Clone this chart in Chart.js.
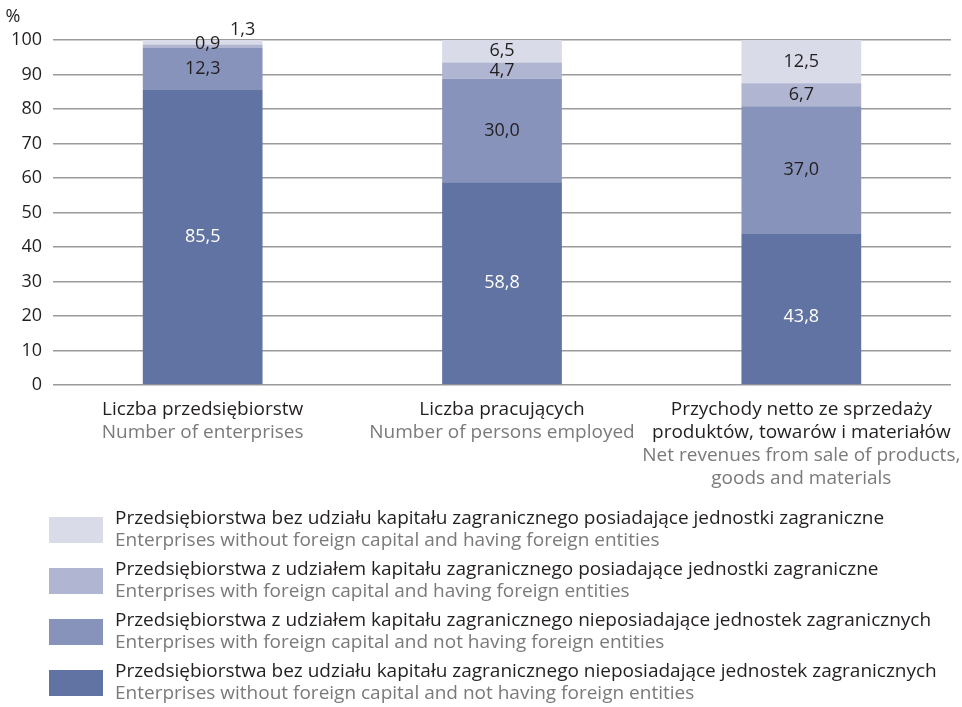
<!DOCTYPE html>
<html>
<head>
<meta charset="utf-8">
<script src="https://cdn.jsdelivr.net/npm/chart.js@4.4.0/dist/chart.umd.min.js"></script>
<style>
  html, body { margin: 0; padding: 0; background: #fff; }
  #wrap { width: 962px; height: 707px; position: relative; }
</style>
</head>
<body>
<div id="wrap"><canvas id="chart" width="962" height="707"></canvas></div>
<script>
// Category labels (Polish + English lines)
const categoriesPl = [
    ['Liczba przedsiębiorstw'],
    ['Liczba pracujących'],
    ['Przychody netto ze sprzedaży', 'produktów, towarów i materiałów']
];
const categoriesEn = [
    ['Number of enterprises'],
    ['Number of persons employed'],
    ['Net revenues from sale of products,', 'goods and materials']
];

// Series values, bottom of the stack first
const noForeignNoEntities = [85.5, 58.8, 43.8];
const foreignNoEntities = [12.3, 30.0, 37.0];
const foreignWithEntities = [0.9, 4.7, 6.7];
const noForeignWithEntities = [1.3, 6.5, 12.5];

const seriesPl = [
    'Przedsiębiorstwa bez udziału kapitału zagranicznego nieposiadające jednostek zagranicznych',
    'Przedsiębiorstwa z udziałem kapitału zagranicznego nieposiadające jednostek zagranicznych',
    'Przedsiębiorstwa z udziałem kapitału zagranicznego posiadające jednostki zagraniczne',
    'Przedsiębiorstwa bez udziału kapitału zagranicznego posiadające jednostki zagraniczne'
];
const seriesEn = [
    'Enterprises without foreign capital and not having foreign entities',
    'Enterprises with foreign capital and not having foreign entities',
    'Enterprises with foreign capital and having foreign entities',
    'Enterprises without foreign capital and having foreign entities'
];

const yTicks = [0, 10, 20, 30, 40, 50, 60, 70, 80, 90, 100];

const colors = ['#6173a3', '#8893bb', '#b0b5d2', '#d9dbe8'];
const FONT = '"Open Sans", "Noto Sans", sans-serif';
const DARK = '#231f20';
const GREY = '#7a7a7a';

// Nudges for a few labels: [dataset]-[index] -> [dx, dy]
const labelNudge = {
    '2-0': [5, -2],
    '3-0': [40, -12],
    '0-2': [0, 8]
};

function fmt(v) {
    return v.toFixed(1).replace('.', ',');
}

// Draws values on the segments, the category labels and the legend
const annotate = {
    id: 'annotate',
    afterDatasetsDraw(chart) {
        const ctx = chart.ctx;
        ctx.save();
        ctx.font = '18px ' + FONT;
        ctx.textAlign = 'center';
        ctx.textBaseline = 'middle';
        chart.data.datasets.forEach((ds, di) => {
            const meta = chart.getDatasetMeta(di);
            meta.data.forEach((bar, i) => {
                const nudge = labelNudge[di + '-' + i] || [0, 0];
                const y = (bar.y + bar.base) / 2;
                ctx.fillStyle = di === 0 ? '#ffffff' : DARK;
                ctx.fillText(fmt(ds.data[i]), bar.x + nudge[0], y + nudge[1]);
            });
        });
        ctx.restore();
    },
    afterDraw(chart) {
        const ctx = chart.ctx;
        const xScale = chart.scales.x;
        const area = chart.chartArea;
        ctx.save();
        ctx.textAlign = 'center';
        ctx.textBaseline = 'middle';

        // "%" unit above the y axis
        ctx.font = '18px ' + FONT;
        ctx.fillStyle = DARK;
        ctx.fillText('%', 13, 17);

        // category labels
        ctx.font = '19px ' + FONT;
        categoriesPl.forEach((pl, i) => {
            const x = xScale.getPixelForValue(i);
            let y = area.bottom + 25;
            ctx.fillStyle = DARK;
            pl.forEach(line => { ctx.fillText(line, x, y); y += 23; });
            ctx.fillStyle = GREY;
            categoriesEn[i].forEach(line => { ctx.fillText(line, x, y); y += 23; });
        });

        // legend, lightest series first
        ctx.textAlign = 'left';
        for (let k = 0; k < 4; k++) {
            const di = 3 - k;
            const top = 517 + k * 51;
            ctx.fillStyle = colors[di];
            ctx.fillRect(49, top, 54, 26);
            ctx.fillStyle = DARK;
            ctx.fillText(seriesPl[di], 115, top + 2);
            ctx.fillStyle = GREY;
            ctx.fillText(seriesEn[di], 115, top + 24);
        }
        ctx.restore();
    }
};

const ctx = document.getElementById('chart').getContext('2d');
new Chart(ctx, {
    type: 'bar',
    data: {
        labels: categoriesPl.map(c => c.join(' ')),
        datasets: [
            { label: seriesPl[0], data: noForeignNoEntities, backgroundColor: colors[0] },
            { label: seriesPl[1], data: foreignNoEntities, backgroundColor: colors[1] },
            { label: seriesPl[2], data: foreignWithEntities, backgroundColor: colors[2] },
            { label: seriesPl[3], data: noForeignWithEntities, backgroundColor: colors[3] }
        ]
    },
    options: {
        responsive: false,
        animation: false,
        layout: { padding: { top: 40, right: 11, bottom: 322, left: 0 } },
        datasets: {
            bar: { categoryPercentage: 1, barPercentage: 0.4, borderWidth: 0 }
        },
        plugins: {
            legend: { display: false },
            tooltip: { enabled: false }
        },
        scales: {
            x: {
                stacked: true,
                grid: { display: false },
                border: { display: false },
                ticks: { display: false },
                afterFit(scale) { scale.height = 0; }
            },
            y: {
                stacked: true,
                min: 0,
                max: 100,
                afterBuildTicks(scale) {
                    scale.ticks = yTicks.map(v => ({ value: v }));
                },
                grid: { color: '#9a9a9a', lineWidth: 1.5, drawTicks: false },
                border: { display: false },
                ticks: {
                    color: DARK,
                    padding: 11,
                    font: { family: FONT, size: 18 }
                },
                afterFit(scale) { scale.width = 53; }
            }
        }
    },
    plugins: [annotate]
});
</script>
</body>
</html>
